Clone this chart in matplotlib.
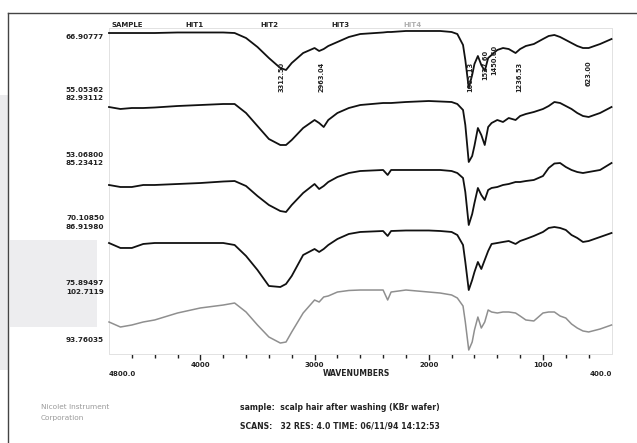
import matplotlib.pyplot as plt
from matplotlib.lines import Line2D
from matplotlib.patches import Rectangle
from matplotlib import transforms

# wavenumber grid (cm-1)
wavenumber = [4800, 4700, 4600, 4500, 4400, 4200, 4000, 3800, 3700, 3600,
              3500, 3400, 3300, 3250, 3200, 3100, 3000, 2960, 2920, 2880,
              2800, 2700, 2600, 2400, 2360, 2330, 2200, 2000, 1900, 1800,
              1750, 1700, 1680, 1650, 1620, 1600, 1570, 1540, 1510, 1480,
              1450, 1400, 1350, 1300, 1240, 1200, 1150, 1080, 1000, 950,
              900, 850, 800, 750, 700, 650, 600, 500, 400]

# %T for each spectrum
sample = [66.49, 66.49, 66.49, 66.49, 66.49, 66.60, 66.60, 66.60, 66.49, 65.45,
          63.58, 61.29, 59.21, 58.80, 60.25, 62.33, 63.37, 62.75, 63.16, 63.79,
          64.62, 65.66, 66.28, 66.60, 66.70, 66.70, 66.91, 66.91, 66.91, 66.70,
          66.28, 64.00, 60.88, 55.05, 57.76, 60.05, 61.71, 59.84, 58.59, 61.29,
          61.92, 62.96, 63.37, 63.16, 62.33, 63.16, 63.79, 64.20, 65.24, 65.87,
          66.08, 65.66, 65.04, 64.41, 63.79, 63.37, 63.37, 64.20, 65.24]
hit1 = [79.99, 79.02, 79.50, 79.50, 79.75, 80.48, 80.97, 81.46, 81.46, 77.06,
        70.69, 64.33, 61.39, 61.39, 63.84, 69.71, 73.63, 72.16, 70.20, 73.63,
        77.06, 79.50, 80.97, 81.95, 81.95, 81.95, 82.44, 82.93, 82.69, 82.44,
        81.46, 78.53, 71.18, 53.07, 56.00, 61.00, 69.71, 66.29, 61.39, 70.20,
        72.16, 73.63, 72.65, 74.61, 73.63, 75.59, 76.57, 77.55, 79.02, 80.48,
        82.44, 81.95, 80.48, 79.02, 77.06, 75.59, 75.10, 77.06, 79.99]
hit2 = [79.87, 79.38, 79.38, 79.87, 79.87, 80.11, 80.35, 80.72, 80.84, 79.62,
        77.18, 74.99, 73.52, 73.28, 74.99, 77.92, 80.11, 78.89, 79.62, 80.60,
        81.82, 82.79, 83.28, 83.53, 82.31, 83.53, 83.53, 83.53, 83.53, 83.28,
        82.79, 81.57, 78.16, 70.11, 72.79, 75.48, 79.14, 77.43, 76.21, 78.65,
        79.14, 79.38, 79.87, 80.11, 80.60, 80.60, 80.84, 81.09, 82.06, 84.01,
        85.11, 85.23, 84.26, 83.53, 83.04, 82.79, 83.04, 83.53, 85.23]
hit3 = [84.12, 83.25, 83.25, 83.95, 84.12, 84.12, 84.12, 84.12, 83.77, 81.85,
        79.40, 76.60, 76.42, 76.95, 78.35, 82.02, 83.07, 82.55, 83.07, 83.77,
        84.82, 85.70, 86.05, 86.22, 85.35, 86.22, 86.31, 86.31, 86.22, 86.05,
        85.52, 83.77, 80.80, 75.89, 77.64, 79.04, 80.80, 79.57, 81.15, 82.72,
        83.95, 84.12, 84.30, 84.47, 83.95, 84.47, 84.82, 85.35, 86.05, 86.75,
        86.92, 86.75, 86.40, 85.52, 85.00, 84.30, 84.47, 85.17, 85.87]
hit4 = [97.94, 97.19, 97.49, 97.94, 98.24, 99.28, 100.03, 100.47, 100.77, 99.43,
        97.49, 95.70, 94.80, 94.95, 96.45, 99.28, 101.22, 100.92, 101.67, 101.82,
        102.41, 102.64, 102.71, 102.71, 101.22, 102.41, 102.71, 102.41, 102.26, 101.97,
        101.52, 100.32, 97.94, 93.76, 94.95, 96.74, 98.68, 97.04, 97.94, 99.73,
        99.43, 99.28, 99.43, 99.43, 99.28, 98.83, 98.24, 98.09, 99.28, 99.43,
        99.43, 98.83, 98.53, 97.64, 97.04, 96.60, 96.45, 96.89, 97.49]

trace_names = ['SAMPLE', 'HIT1', 'HIT2', 'HIT3', 'HIT4']
scale_top = ['66.90777', '82.93112', '85.23412', '86.91980', '102.7119']
scale_bottom = ['55.05362', '53.06800', '70.10850', '75.89497', '93.76035']
peaks = ['3312.50', '2963.04', '1665.13', '1527.60', '1450.60', '1236.53', '623.00']

# ---- layout (pixels of a 637 x 443 canvas) ----
W, H = 637, 443
X0, X1 = 109, 611.5
bands = [(31, 88), (101, 162), (163, 225), (227, 290), (290, 350)]
label_rows = [(37, 90), (98, 155), (163, 218), (227, 283), (292, 340)]
header_x = [127, 194, 269, 340, 413]
peak_tops = [0.46, 0.46, 0.46, 0.67, 0.75, 0.46, 0.49]
colors = ['#111111'] * 4 + ['#8f8f8f']
font = 'DejaVu Sans'


def fx(x):
    return x / W


def fy(y):
    return 1 - y / H


fig = plt.figure(figsize=(W / 100, H / 100), dpi=100)
fig.patch.set_facecolor('white')

# faint background shading of the scanned page
fig.add_artist(Rectangle((0, fy(370)), fx(8), fy(95) - fy(370),
                         color='#ebebed', lw=0, zorder=0))
fig.add_artist(Rectangle((fx(10), fy(327)), fx(97) - fx(10), fy(240) - fy(327),
                         color='#ededef', lw=0, zorder=0))

# outer page frame
fig.add_artist(Line2D([fx(8), 1], [fy(12.7), fy(12.7)], color='#444444', lw=1.0))
fig.add_artist(Line2D([fx(8), fx(8)], [fy(12.7), 0], color='#444444', lw=1.0))

# frame with wavenumber ticks
frame = fig.add_axes([fx(X0), fy(354), fx(X1) - fx(X0), fy(28) - fy(354)])
frame.patch.set_alpha(0)
frame.set_xlim(4800, 400)
frame.set_ylim(0, 1)
frame.set_yticks([])
for s in frame.spines.values():
    s.set_color('#e2e2e2')
    s.set_linewidth(0.7)
frame.set_xticks([4000, 3000, 2000, 1000])
frame.set_xticklabels(['4000', '3000', '2000', '1000'], fontsize=5,
                      fontweight='bold', family=font, color='#222222')
frame.set_xticks([w for w in range(4600, 500, -200) if w % 1000], minor=True)
frame.tick_params(axis='x', which='major', direction='out', length=4, width=1.0,
                  color='#222222', pad=1.5)
frame.tick_params(axis='x', which='minor', direction='out', length=3, width=1.0,
                  color='#222222')
trans = transforms.blended_transform_factory(frame.transData, frame.transAxes)
frame.text(4800, -0.06, '4800.0', transform=trans, ha='left', va='center',
           fontsize=5, fontweight='bold', family=font, color='#222222')
frame.text(400, -0.06, '400.0', transform=trans, ha='right', va='center',
           fontsize=5, fontweight='bold', family=font, color='#222222')
frame.text(2630, -0.06, 'WAVENUMBERS', transform=trans, ha='center', va='center',
           fontsize=5.5, fontweight='bold', family=font, color='#222222')

# stacked spectra, each on its own %T scale
series = [sample, hit1, hit2, hit3, hit4]
axes = []
for i, vals in enumerate(series):
    top, bot = bands[i]
    ax = fig.add_axes([fx(X0), fy(bot), fx(X1) - fx(X0), fy(top) - fy(bot)])
    ax.set_xlim(4800, 400)
    ax.set_ylim(float(scale_bottom[i]), float(scale_top[i]))
    ax.axis('off')
    ax.patch.set_alpha(0)
    ax.plot(wavenumber, vals, color=colors[i], lw=1.3 if i < 4 else 1.1,
            clip_on=False, solid_joinstyle='round')
    axes.append(ax)
    # scale labels
    for txt, yy in zip((scale_top[i], scale_bottom[i]), label_rows[i]):
        fig.text(fx(104), fy(yy), txt, ha='right', va='center', fontsize=5.2,
                 fontweight='bold', family=font, color='#222222')
    # header
    fig.text(fx(header_x[i]), fy(25), trace_names[i], ha='center', va='center',
             fontsize=5, fontweight='bold', family=font,
             color='#222222' if i < 4 else '#b0b0b0')

# peak picks on the sample spectrum
ptrans = transforms.blended_transform_factory(axes[0].transData, axes[0].transAxes)
for p, t in zip(peaks, peak_tops):
    axes[0].text(float(p), t, p, transform=ptrans, rotation=90, ha='left',
                 va='top', fontsize=4.8, fontweight='bold', family=font,
                 color='#222222')

# footer
fig.text(fx(41), fy(407), 'Nicolet Instrument', ha='left', va='center',
         fontsize=5.3, family=font, color='#9a9a9a')
fig.text(fx(41), fy(418), 'Corporation', ha='left', va='center',
         fontsize=5.3, family=font, color='#9a9a9a')
fig.text(fx(240), fy(407), 'sample:  scalp hair after washing (KBr wafer)',
         ha='left', va='center', fontsize=5.6, fontweight='bold', family=font,
         color='#222222')
fig.text(fx(240), fy(426), 'SCANS:   32 RES: 4.0 TIME: 06/11/94 14:12:53',
         ha='left', va='center', fontsize=5.6, fontweight='bold', family=font,
         color='#222222')

fig.savefig('out.png', dpi=100, facecolor='white')
